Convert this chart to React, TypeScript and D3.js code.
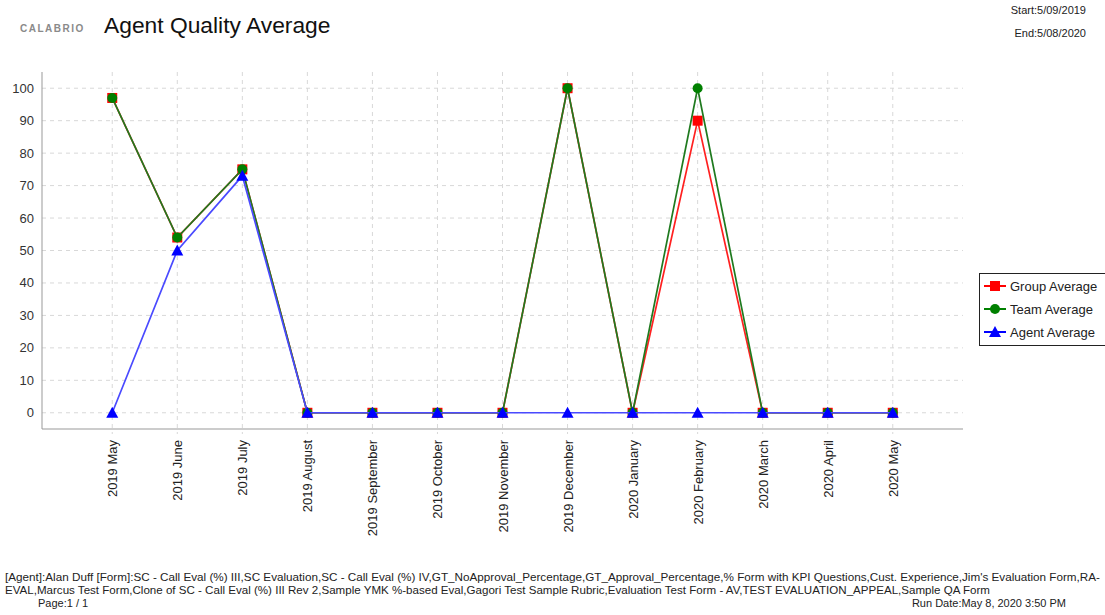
import React from "react";
import * as d3 from "d3";

const months = [
  "2019 May", "2019 June", "2019 July", "2019 August", "2019 September", "2019 October",
  "2019 November", "2019 December", "2020 January", "2020 February", "2020 March", "2020 April", "2020 May",
];
const groupAvg = [97, 54, 75, 0, 0, 0, 0, 100, 0, 90, 0, 0, 0];
const teamAvg = [97, 54, 75, 0, 0, 0, 0, 100, 0, 100, 0, 0, 0];
const agentAvg = [0, 50, 73, 0, 0, 0, 0, 0, 0, 0, 0, 0, 0];
const yTicks = [0, 10, 20, 30, 40, 50, 60, 70, 80, 90, 100];
const seriesNames = ["Group Average", "Team Average", "Agent Average"];

const FONT = "'Liberation Sans', Arial, sans-serif";
const W = 1105, H = 615;
const L = 42, R = 963, T = 72, B = 429;

export default function App() {
  const x = d3.scalePoint<string>().domain(months).range([L, R]).padding(1.08);
  const y = d3.scaleLinear().domain([-5, 105]).range([B, T]);
  const line = d3.line<number>().x((_, i) => x(months[i])!).y((d) => y(d));

  const series = [
    { name: seriesNames[0], data: groupAvg, color: "#ff0000", line: "#ff2020", shape: "square" },
    { name: seriesNames[1], data: teamAvg, color: "#008000", line: "#1f7a1f", shape: "circle" },
    { name: seriesNames[2], data: agentAvg, color: "#0000ff", line: "#4a4aff", shape: "triangle" },
  ];

  const marker = (shape: string, cx: number, cy: number, color: string, key: any) => {
    if (shape === "square")
      return <rect key={key} x={cx - 5} y={cy - 5} width={10} height={10} fill={color} />;
    if (shape === "circle") return <circle key={key} cx={cx} cy={cy} r={5} fill={color} />;
    return (
      <path key={key} d={`M${cx},${cy - 6}L${cx + 6},${cy + 5}L${cx - 6},${cy + 5}Z`} fill={color} />
    );
  };

  return (
    <svg width={W} height={H} style={{ position: "absolute", left: 0, top: 0, background: "#fff" }} fontFamily={FONT}>
      {/* header */}
      <text x={20} y={32} fontSize={10} fontWeight="bold" fill="#8a8a8a" letterSpacing={1.5}>CALABRIO</text>
      <text x={104} y={33} fontSize={22.8} fill="#111">Agent Quality Average</text>
      <text x={1086} y={14} fontSize={11} textAnchor="end" fill="#222">Start:5/09/2019</text>
      <text x={1086} y={37} fontSize={11} textAnchor="end" fill="#222">End:5/08/2020</text>

      {/* grid */}
      {yTicks.map((t) => (
        <line key={"gy" + t} x1={L} x2={R} y1={y(t)} y2={y(t)} stroke="#d8d8d8" strokeDasharray="4,4" />
      ))}
      {months.map((m) => (
        <line key={"gx" + m} x1={x(m)} x2={x(m)} y1={T} y2={B + 5} stroke="#d8d8d8" strokeDasharray="4,4" />
      ))}

      {/* axes */}
      <line x1={L} x2={L} y1={T} y2={B} stroke="#999" />
      <line x1={L} x2={R} y1={B} y2={B} stroke="#999" />
      {yTicks.map((t) => (
        <text key={"ty" + t} x={34} y={y(t) + 4.5} fontSize={13} textAnchor="end" fill="#333">{t}</text>
      ))}
      {months.map((m) => (
        <text
          key={"tx" + m}
          transform={`translate(${x(m)! + 5},${440}) rotate(-90)`}
          fontSize={13}
          textAnchor="end"
          fill="#222"
        >
          {m}
        </text>
      ))}

      {/* series */}
      {series.map((s) => (
        <g key={s.name}>
          <path d={line(s.data)!} fill="none" stroke={s.line} strokeWidth={1.7} />
          {s.data.map((v, i) => marker(s.shape, x(months[i])!, y(v), s.color, i))}
        </g>
      ))}

      {/* legend */}
      <rect x={979.5} y={273.5} width={130} height={72} fill="#fff" stroke="#222" />
      {series.map((s, i) => {
        const cy = 286 + i * 23;
        return (
          <g key={"lg" + s.name}>
            <line x1={984} x2={1006} y1={cy} y2={cy} stroke={s.color} strokeWidth={2} />
            {marker(s.shape, 995, cy, s.color, "m")}
            <text x={1010} y={cy + 4.5} fontSize={13} fill="#222">{s.name}</text>
          </g>
        );
      })}

      {/* footer */}
      <text x={5} y={581} fontSize={11} fill="#222" textLength={1095} lengthAdjust="spacingAndGlyphs">
        [Agent]:Alan Duff [Form]:SC - Call Eval (%) III,SC Evaluation,SC - Call Eval (%) IV,GT_NoApproval_Percentage,GT_Approval_Percentage,% Form with KPI Questions,Cust. Experience,Jim's Evaluation Form,RA-
      </text>
      <text x={5} y={594} fontSize={11} fill="#222" textLength={985} lengthAdjust="spacingAndGlyphs">
        EVAL,Marcus Test Form,Clone of SC - Call Eval (%) III Rev 2,Sample YMK %-based Eval,Gagori Test Sample Rubric,Evaluation Test Form - AV,TEST EVALUATION_APPEAL,Sample QA Form
      </text>
      <text x={38} y={607} fontSize={11} fill="#222">Page:1 / 1</text>
      <text x={1066} y={607} fontSize={11} fill="#222" textAnchor="end">Run Date:May 8, 2020 3:50 PM</text>
    </svg>
  );
}
